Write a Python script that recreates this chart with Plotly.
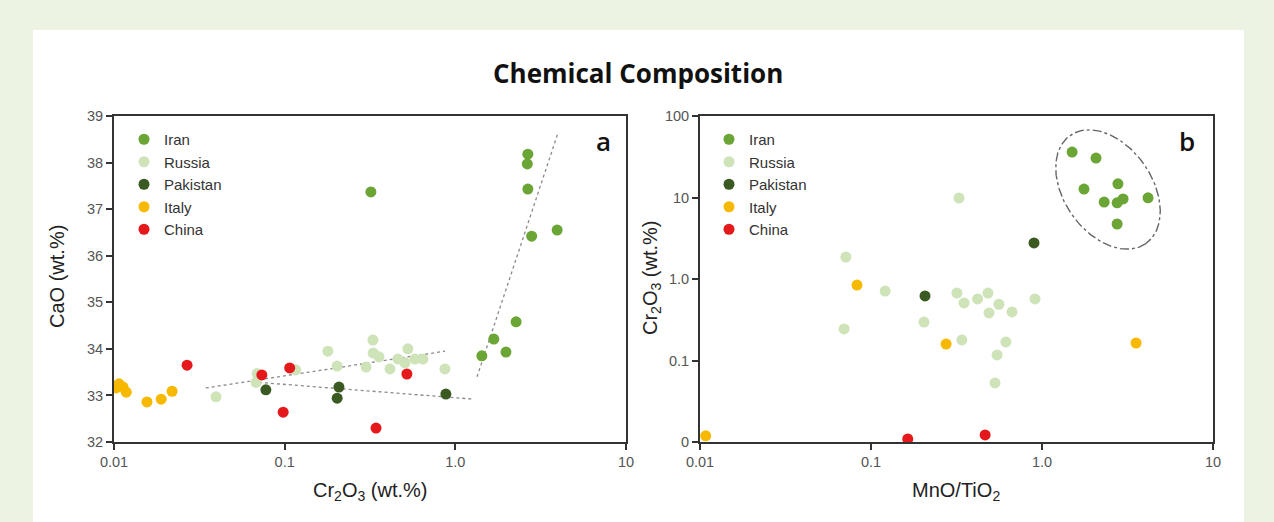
import numpy as np
import plotly.graph_objects as go

W, H = 1274, 522

# ---------------- data: panel a (Cr2O3 vs CaO) ----------------
iran_a_x = [0.32, 2.66, 2.64, 2.66, 2.80, 3.95, 2.27, 1.68, 1.98, 1.43]
iran_a_y = [37.37, 38.18, 37.97, 37.43, 36.42, 36.55, 34.58, 34.21, 33.93, 33.85]

russia_a_x = [0.0396, 0.069, 0.068, 0.116, 0.179, 0.203, 0.329, 0.33, 0.357, 0.30,
              0.414, 0.461, 0.527, 0.507, 0.579, 0.646, 0.869]
russia_a_y = [32.97, 33.47, 33.28, 33.55, 33.95, 33.63, 34.19, 33.91, 33.83, 33.61,
              33.57, 33.78, 34.0, 33.7, 33.78, 33.78, 33.57]

pakistan_a_x = [0.0776, 0.208, 0.203, 0.88]
pakistan_a_y = [33.12, 33.18, 32.94, 33.03]

italy_a_x = [0.0107, 0.0103, 0.0113, 0.0118, 0.0156, 0.0189, 0.0219]
italy_a_y = [33.25, 33.16, 33.18, 33.07, 32.86, 32.92, 33.09]

china_a_x = [0.0268, 0.0735, 0.107, 0.098, 0.52, 0.343]
china_a_y = [33.65, 33.44, 33.59, 32.64, 33.46, 32.30]

trend1_x = [0.0345, 0.87]
trend1_y = [33.16, 33.95]
trend2_x = [0.0652, 1.28]
trend2_y = [33.29, 32.92]
trend3_x = [1.34, 3.99]
trend3_y = [33.40, 38.63]

# ---------------- data: panel b (MnO/TiO2 vs Cr2O3) ----------------
iran_b_x = [1.50, 2.07, 1.76, 2.78, 2.31, 2.75, 2.98, 4.17, 2.75]
iran_b_y = [36.1, 30.5, 12.7, 14.7, 8.8, 8.6, 9.6, 9.9, 4.73]

russia_b_x = [0.327, 0.0713, 0.121, 0.0696, 0.204, 0.318, 0.350, 0.42, 0.483, 0.56,
              0.49, 0.668, 0.91, 0.34, 0.615, 0.546, 0.531]
russia_b_y = [9.86, 1.86, 0.71, 0.244, 0.296, 0.673, 0.508, 0.569, 0.673, 0.49,
              0.383, 0.394, 0.569, 0.179, 0.169, 0.117, 0.053]

pakistan_b_x = [0.898, 0.207]
pakistan_b_y = [2.77, 0.62]

italy_b_x = [0.0828, 0.275, 3.55, 0.0108]
italy_b_y = [0.843, 0.159, 0.164, 0.0119]

china_b_x = [0.164, 0.465]
china_b_y = [0.0109, 0.0122]

# ellipse around Iran cluster (log-space centre; semi-axes in px of the plot)
ell_cx, ell_cy = 0.386, 1.098
ell_a, ell_b, ell_angle = 66, 44, 55

x_tickvals = [0.01, 0.1, 1, 10]
x_ticktext = ["0.01", "0.1", "1.0", "10"]
ya_tickvals = [32, 33, 34, 35, 36, 37, 38, 39]
yb_tickvals = [0.01, 0.1, 1, 10, 100]
yb_ticktext = ["0", "0.1", "1.0", "10", "100"]

countries = ["Iran", "Russia", "Pakistan", "Italy", "China"]
colors = {"Iran": "#6aa535", "Russia": "#cfe3b9", "Pakistan": "#3b5a22",
          "Italy": "#f6b900", "China": "#e5191c"}

data_a = {"Iran": (iran_a_x, iran_a_y), "Russia": (russia_a_x, russia_a_y),
          "Pakistan": (pakistan_a_x, pakistan_a_y), "Italy": (italy_a_x, italy_a_y),
          "China": (china_a_x, china_a_y)}
data_b = {"Iran": (iran_b_x, iran_b_y), "Russia": (russia_b_x, russia_b_y),
          "Pakistan": (pakistan_b_x, pakistan_b_y), "Italy": (italy_b_x, italy_b_y),
          "China": (china_b_x, china_b_y)}

fig = go.Figure()

trend_style = dict(color="#8a8a8a", width=1.3, dash="dot")
for tx, ty in [(trend1_x, trend1_y), (trend2_x, trend2_y), (trend3_x, trend3_y)]:
    fig.add_trace(go.Scatter(x=tx, y=ty, mode="lines", line=trend_style,
                             showlegend=False, hoverinfo="skip", xaxis="x", yaxis="y"))

for c in countries:
    x, y = data_a[c]
    fig.add_trace(go.Scatter(x=x, y=y, mode="markers", name=c,
                             marker=dict(size=11, color=colors[c]),
                             xaxis="x", yaxis="y", legend="legend"))
for c in countries:
    x, y = data_b[c]
    fig.add_trace(go.Scatter(x=x, y=y, mode="markers", name=c,
                             marker=dict(size=11, color=colors[c]),
                             xaxis="x2", yaxis="y2", legend="legend2"))

# ellipse in log space
t = np.linspace(0, 2 * np.pi, 200)
th = np.deg2rad(ell_angle)
dx = ell_a * np.cos(t) * np.cos(th) - ell_b * np.sin(t) * np.sin(th)
dy = ell_a * np.cos(t) * np.sin(th) + ell_b * np.sin(t) * np.cos(th)
px_per_dec_x = 171.0
px_per_dec_y = 81.5
ex = 10 ** (ell_cx + dx / px_per_dec_x)
ey = 10 ** (ell_cy - dy / px_per_dec_y)
fig.add_trace(go.Scatter(x=ex, y=ey, mode="lines",
                         line=dict(color="#666666", width=1.4, dash="dashdot"),
                         showlegend=False, hoverinfo="skip", xaxis="x2", yaxis="y2"))

tickfont = dict(family="Liberation Sans, Arial, sans-serif", size=14.5, color="#555555")
axis_common = dict(showline=True, linecolor="#333333", linewidth=2, mirror=True,
                   ticks="outside", ticklen=6, tickwidth=1.5, tickcolor="#333333",
                   showgrid=False, zeroline=False, tickfont=tickfont, automargin=False)

legfont = dict(family="Liberation Sans, Arial, sans-serif", size=15, color="#333333")
ydom = [(H - 442) / H, (H - 116) / H]
fig.update_layout(
    template="none",
    width=W, height=H,
    margin=dict(l=0, r=0, t=0, b=0, pad=0, autoexpand=False),
    paper_bgcolor="#edf3e3",
    plot_bgcolor="white",
    showlegend=True,
    xaxis=dict(type="log", range=[-2, 1], domain=[114 / W, 626 / W],
               tickvals=x_tickvals, ticktext=x_ticktext, anchor="y", **axis_common),
    yaxis=dict(range=[32, 39], domain=ydom, tickvals=ya_tickvals, anchor="x", **axis_common),
    xaxis2=dict(type="log", range=[-2, 1], domain=[700 / W, 1213 / W],
                tickvals=x_tickvals, ticktext=x_ticktext, anchor="y2", **axis_common),
    yaxis2=dict(type="log", range=[-2, 2], domain=ydom, tickvals=yb_tickvals,
                ticktext=yb_ticktext, anchor="x2", **axis_common),
    legend=dict(x=124 / W, y=1 - 123 / H, xanchor="left", yanchor="top",
                bgcolor="rgba(0,0,0,0)", itemwidth=30, font=legfont),
    legend2=dict(x=709 / W, y=1 - 123 / H, xanchor="left", yanchor="top",
                 bgcolor="rgba(0,0,0,0)", itemwidth=30, font=legfont),
    shapes=[dict(type="rect", xref="paper", yref="paper", x0=33 / W, x1=1244 / W,
                 y0=0, y1=1 - 30 / H, fillcolor="white", line=dict(width=0), layer="below")],
)

title_font = dict(family="Open Sans, Lato, sans-serif", size=26, color="#111111")
letter_font = dict(family="Open Sans, Lato, sans-serif", size=26, color="#111111", weight=600)
lab_font = dict(family="Liberation Sans, Arial, sans-serif", size=20, color="#222222")
ann = [
    dict(text="<b>Chemical Composition</b>", x=638 / W, y=1 - 73 / H, font=title_font),
    dict(text="a", x=603 / W, y=1 - 141 / H, font=letter_font),
    dict(text="b", x=1187 / W, y=1 - 141 / H, font=letter_font),
    dict(text="CaO (wt.%)", x=57 / W, y=1 - 277 / H, textangle=-90, font=lab_font),
    dict(text="Cr<sub>2</sub>O<sub>3</sub> (wt.%)", x=370 / W, y=1 - 491 / H, font=lab_font),
    dict(text="Cr<sub>2</sub>O<sub>3</sub> (wt.%)", x=651 / W, y=1 - 278 / H, textangle=-90, font=lab_font),
    dict(text="MnO/TiO<sub>2</sub>", x=956 / W, y=1 - 491 / H, font=lab_font),
]
for a in ann:
    fig.add_annotation(xref="paper", yref="paper", showarrow=False,
                       xanchor="center", yanchor="middle", **a)

fig.write_html("out.html", config={"displayModeBar": False},
               post_script="document.body.style.margin='0px';document.body.style.overflow='hidden';")
